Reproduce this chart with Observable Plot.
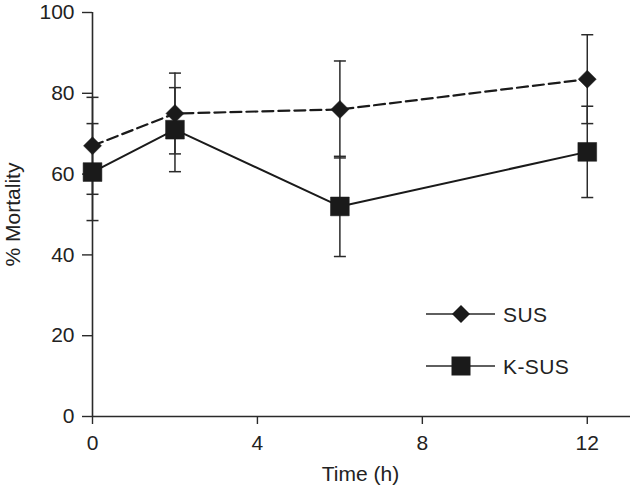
<!DOCTYPE html>
<html>
<head>
<meta charset="utf-8">
<script src="https://cdn.jsdelivr.net/npm/d3@7"></script>
<script src="https://cdn.jsdelivr.net/npm/@observablehq/plot@0.6"></script>
<style>
  html, body { margin: 0; padding: 0; background: #fff; }
  #chart svg { display: block; font-family: "Liberation Sans", Arial, sans-serif; }
</style>
</head>
<body>
<div id="chart"></div>
<script>
// ---- data ----
const times = [0, 2, 6, 12];
const susMean = [67, 75, 76, 83.5];
const susErr = [12, 10, 12, 11];
const ksusMean = [60.5, 71, 52, 65.5];
const ksusErr = [12, 10.4, 12.4, 11.3];
const seriesNames = ["SUS", "K-SUS"];
const xTicks = [0, 4, 8, 12];
const yTicks = [0, 20, 40, 60, 80, 100];

const ink = "#1a1a1a";
const axisInk = "#2a2a2a";
const fs = 21;

const sus = times.map((t, i) => ({t, m: susMean[i], lo: susMean[i] - susErr[i], hi: susMean[i] + susErr[i]}));
const ksus = times.map((t, i) => ({t, m: ksusMean[i], lo: ksusMean[i] - ksusErr[i], hi: ksusMean[i] + ksusErr[i]}));
const all = sus.concat(ksus);
const caps = all.flatMap(d => [{t: d.t, v: d.lo}, {t: d.t, v: d.hi}]);

const capSymbol = {draw(ctx, size) { const w = 6; ctx.moveTo(-w, 0); ctx.lineTo(w, 0); }};

const chart = Plot.plot({
  width: 630,
  height: 492,
  marginLeft: 92,
  marginRight: 2,
  marginTop: 12,
  marginBottom: 76,
  style: {fontFamily: "'Liberation Sans', Arial, sans-serif", fontSize: fs + "px", color: axisInk, background: "#fff"},
  x: {domain: [0, 13]},
  y: {domain: [0, 100]},
  marks: [
    Plot.ruleX([0], {stroke: axisInk, strokeWidth: 1.6}),
    Plot.ruleY([0], {stroke: axisInk, strokeWidth: 1.6, insetRight: -2}),
    Plot.axisX({ticks: xTicks, tickSize: 8, tickPadding: 11, fontSize: fs, label: null, stroke: axisInk, strokeWidth: 1.4, fill: "#222"}),
    Plot.axisY({ticks: yTicks, tickSize: 10, tickPadding: 8, fontSize: fs, label: null, stroke: axisInk, strokeWidth: 1.4, fill: "#222"}),
    Plot.ruleX(all, {x: "t", y1: "lo", y2: "hi", stroke: axisInk, strokeWidth: 1.5}),
    Plot.dot(caps, {x: "t", y: "v", symbol: capSymbol, r: 6, stroke: axisInk, strokeWidth: 1.5, fill: "none"}),
    Plot.line(sus, {x: "t", y: "m", stroke: ink, strokeWidth: 2.2, strokeDasharray: "11,5"}),
    Plot.line(ksus, {x: "t", y: "m", stroke: ink, strokeWidth: 2}),
    Plot.dot(sus, {x: "t", y: "m", symbol: "diamond2", r: 8.1, fill: ink, stroke: ink, strokeWidth: 0.5}),
    Plot.dot(ksus, {x: "t", y: "m", symbol: "square", r: 10.6, fill: ink, stroke: ink, strokeWidth: 0.5}),
    Plot.text(["% Mortality"], {frameAnchor: "left", textAnchor: "middle", rotate: -90, dx: -79, fontSize: fs, fill: "#222"}),
    Plot.text(["Time (h)"], {frameAnchor: "bottom", textAnchor: "middle", dy: 64, fontSize: fs, fill: "#222"})
  ]
});

document.getElementById("chart").appendChild(chart);

// ---- legend (drawn in SVG, positioned in pixels) ----
const svg = d3.select(chart);
const lg = svg.append("g")
  .attr("font-family", "'Liberation Sans', Arial, sans-serif")
  .attr("font-size", fs)
  .attr("text-anchor", "start");
const legendRows = [
  {name: seriesNames[0], sym: d3.symbolDiamond2, size: 206, y: 314},
  {name: seriesNames[1], sym: d3.symbolSquare, size: 361, y: 366}
];
legendRows.forEach(r => {
  lg.append("line").attr("x1", 426).attr("x2", 495).attr("y1", r.y).attr("y2", r.y)
    .attr("stroke", axisInk).attr("stroke-width", 1.6);
  lg.append("path").attr("d", d3.symbol(r.sym, r.size)()).attr("transform", `translate(461,${r.y})`)
    .attr("fill", ink);
  lg.append("text").attr("x", 503).attr("y", r.y).attr("dy", "0.36em").attr("fill", "#222")
    .attr("text-anchor", "start")
    .style("letter-spacing", "0.4px").text(r.name);
});
</script>
</body>
</html>
